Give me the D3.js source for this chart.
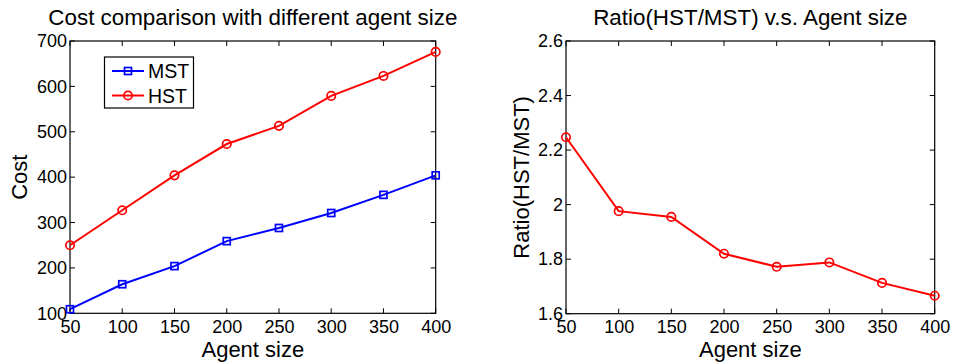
<!DOCTYPE html>
<html><head><meta charset="utf-8">
<script src="https://cdn.jsdelivr.net/npm/d3@7"></script>
<style>body{margin:0;background:#fff}svg{display:block}text{font-family:"Liberation Sans",Arial,sans-serif;fill:#000}</style>
</head><body><svg id="c" width="954" height="364"></svg>
<script>
const agentSizes = [50,100,150,200,250,300,350,400];
const mstCost = [109,164,204,259,288,321,361,404];
const hstCost = [250,327,404,473,513,579,623,676];
const ratio = [2.247,1.976,1.955,1.820,1.772,1.788,1.713,1.666];
const costTicks = [100,200,300,400,500,600,700];
const ratioTicks = [1.6,1.8,2,2.2,2.4,2.6];

const svg = d3.select("#c");

function panel(o){
  const g = svg.append("g");
  const x = d3.scaleLinear().domain([50,400]).range([o.x0,o.x1]);
  const y = d3.scaleLinear().domain(o.ydom).range([o.y1,o.y0]);
  const tl = 5;
  g.append("rect").attr("x",o.x0).attr("y",o.y0).attr("width",o.x1-o.x0).attr("height",o.y1-o.y0)
    .attr("fill","none").attr("stroke","#000").attr("stroke-width",1.2);
  const ax = d3.axisBottom(x).tickValues(agentSizes).tickSize(0).tickPadding(7).tickFormat(d3.format("d"));
  const ay = d3.axisLeft(y).tickValues(o.ticks).tickSize(0).tickPadding(3).tickFormat(o.fmt);
  const gx = g.append("g").attr("transform",`translate(0,${o.y1})`).call(ax);
  const gy = g.append("g").attr("transform",`translate(${o.x0},0)`).call(ay);
  [gx,gy].forEach(a=>{a.select(".domain").remove();a.selectAll("text").style("font-size","18px").style("font-family","Liberation Sans, Arial, sans-serif");});
  agentSizes.forEach(v=>{
    g.append("line").attr("x1",x(v)).attr("x2",x(v)).attr("y1",o.y1).attr("y2",o.y1-tl).attr("stroke","#000");
    g.append("line").attr("x1",x(v)).attr("x2",x(v)).attr("y1",o.y0).attr("y2",o.y0+tl).attr("stroke","#000");
  });
  o.ticks.forEach(v=>{
    g.append("line").attr("x1",o.x0).attr("x2",o.x0+tl).attr("y1",y(v)).attr("y2",y(v)).attr("stroke","#000");
    g.append("line").attr("x1",o.x1).attr("x2",o.x1-tl).attr("y1",y(v)).attr("y2",y(v)).attr("stroke","#000");
  });
  g.append("text").attr("x",(o.x0+o.x1)/2).attr("y",25).attr("text-anchor","middle").style("font-size","22.4px").text(o.title);
  g.append("text").attr("x",(o.x0+o.x1)/2).attr("y",357).attr("text-anchor","middle").style("font-size","22px").text("Agent size");
  g.append("text").attr("transform",`translate(${o.ylx},${(o.y0+o.y1)/2}) rotate(-90)`).attr("text-anchor","middle").style("font-size","22px").text(o.ylabel);
  return {g,x,y};
}

const line = (x,y,vals)=>d3.line().x((d,i)=>x(agentSizes[i])).y(d=>y(d))(vals);

const L = panel({x0:70,x1:435.7,y0:41,y1:313.3,ydom:[100,700],ticks:costTicks,fmt:d3.format("d"),
  title:"Cost comparison with different agent size",ylabel:"Cost",ylx:27});
L.g.append("path").attr("d",line(L.x,L.y,mstCost)).attr("fill","none").attr("stroke","#0000ff").attr("stroke-width",2);
L.g.selectAll(".sq").data(mstCost).enter().append("rect")
  .attr("x",(d,i)=>L.x(agentSizes[i])-3.5).attr("y",d=>L.y(d)-3.5).attr("width",7).attr("height",7)
  .attr("fill","none").attr("stroke","#0000ff").attr("stroke-width",1.7);
L.g.append("path").attr("d",line(L.x,L.y,hstCost)).attr("fill","none").attr("stroke","#ff0000").attr("stroke-width",2);
L.g.selectAll(".ci").data(hstCost).enter().append("circle")
  .attr("cx",(d,i)=>L.x(agentSizes[i])).attr("cy",d=>L.y(d)).attr("r",4.2)
  .attr("fill","none").attr("stroke","#ff0000").attr("stroke-width",1.7);
const lg = L.g.append("g");
lg.append("rect").attr("x",104.5).attr("y",57).attr("width",89).attr("height",51).attr("fill","#fff").attr("stroke","#000").attr("stroke-width",1.2);
[["MST","#0000ff","sq",71],["HST","#ff0000","ci",95.5]].forEach(([n,c,m,yy])=>{
  lg.append("line").attr("x1",112).attr("x2",144).attr("y1",yy).attr("y2",yy).attr("stroke",c).attr("stroke-width",2);
  if(m==="sq") lg.append("rect").attr("x",124.5).attr("y",yy-3.5).attr("width",7).attr("height",7).attr("fill","none").attr("stroke",c).attr("stroke-width",1.7);
  else lg.append("circle").attr("cx",128).attr("cy",yy).attr("r",4.2).attr("fill","none").attr("stroke",c).attr("stroke-width",1.7);
  lg.append("text").attr("x",148).attr("y",yy+7).style("font-size","19.5px").text(n);
});

const R = panel({x0:566,x1:934.7,y0:41,y1:313.7,ydom:[1.6,2.6],ticks:ratioTicks,fmt:d=>String(+d.toFixed(1)),
  title:"Ratio(HST/MST) v.s. Agent size",ylabel:"Ratio(HST/MST)",ylx:529});
R.g.append("path").attr("d",line(R.x,R.y,ratio)).attr("fill","none").attr("stroke","#ff0000").attr("stroke-width",2);
R.g.selectAll(".ci").data(ratio).enter().append("circle")
  .attr("cx",(d,i)=>R.x(agentSizes[i])).attr("cy",d=>R.y(d)).attr("r",4.2)
  .attr("fill","none").attr("stroke","#ff0000").attr("stroke-width",1.7);
</script></body></html>
